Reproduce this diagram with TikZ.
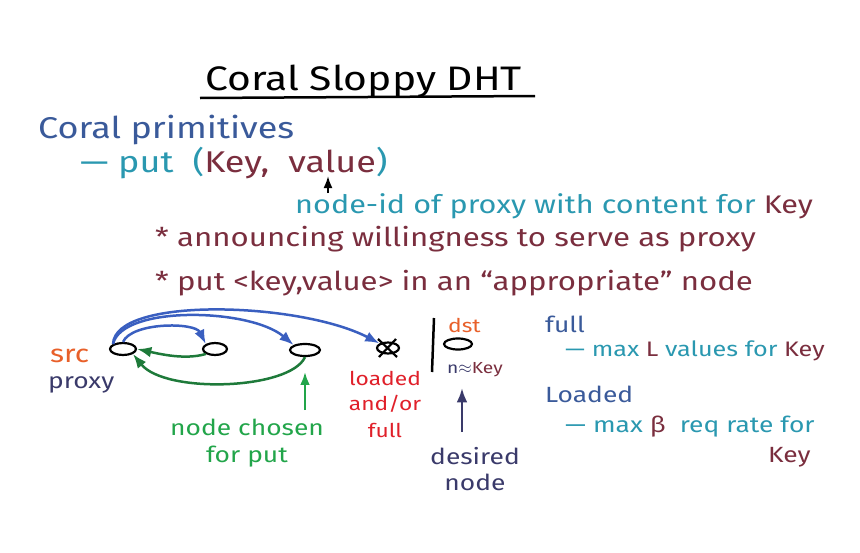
\documentclass[tikz,border=0pt]{standalone}
\usepackage{fontspec}
\setmainfont[FakeStretch=1.2]{Fira Sans}
\usetikzlibrary{positioning,calc,arrows.meta,shapes.geometric}
\definecolor{inkblue}{HTML}{3A5A9A}
\definecolor{inkteal}{HTML}{2A98B0}
\definecolor{inkmaroon}{HTML}{7A2E3E}
\definecolor{inkorange}{HTML}{E8602A}
\definecolor{inknavy}{HTML}{3A3A6A}
\definecolor{inkgreen}{HTML}{1E7A3A}
\definecolor{inklime}{HTML}{22A54A}
\definecolor{inkred}{HTML}{E0202A}
\definecolor{arcblue}{HTML}{3A5FC0}

\begin{document}
\begin{tikzpicture}[x=1pt,y=-1pt,>=Latex,
  every node/.style={inner sep=0pt,anchor=base west},
  title/.style={font=\fontsize{34}{38}\selectfont},
  big/.style={font=\fontsize{30}{34}\selectfont},
  hand/.style={font=\fontsize{25.5}{30}\selectfont},
  small/.style={font=\fontsize{22}{26}\selectfont},
  tiny/.style={font=\fontsize{16}{20}\selectfont},
  peer/.style={draw,ellipse,line width=2.2pt,anchor=center,minimum width=26pt,minimum height=12pt},
  push/.style={->,draw=arcblue,line width=2.5pt},
  reply/.style={->,draw=inkgreen,line width=2.5pt}]
\useasboundingbox (0,0) rectangle (860,552);

% heading
\node[title] (head) at (205,90) {Coral Sloppy DHT};
\draw[line width=2.5pt] (200,98) coordinate (ul) -- (535,96) coordinate (ur);
\node[big,text=inkblue] (prim) at (38,138) {Coral primitives};
\node[big,text=inkteal] (put) at (80,172) {— put \ (\textcolor{inkmaroon}{Key, \ value})};
\node[hand,text=inkteal] (nid) at (295,213) {node-id of proxy with content for \textcolor{inkmaroon}{Key}};
\coordinate (valtip) at (328,176);
\coordinate (valtail) at (328,193);
\draw[->,line width=2pt] (valtail) -- (valtip);
\node[hand,text=inkmaroon,font=\fontsize{26}{30}\selectfont] (ann) at (155,246) {* announcing willingness to serve as proxy};
\node[hand,text=inkmaroon,font=\fontsize{26}{30}\selectfont] (app) at (155,290) {* put <key,value> in an “appropriate” node};

% peers
\node[peer] (src) at (123,349) {};
\node[peer,minimum width=24pt] (n2) at (215,349) {};
\node[peer,minimum width=30pt] (n3) at (305,350) {};
\node[peer,minimum width=22pt,minimum height=11pt] (full) at (388,348) {};
\draw[line width=2.2pt] ($(full.center)+(-10,-9)$) -- ($(full.center)+(9,9)$);
\draw[line width=2.2pt] ($(full.center)+(8,-9)$) -- ($(full.center)+(-9,9)$);
\node[peer,minimum width=28pt,minimum height=11pt] (dst) at (458,344) {};
\draw[line width=2.5pt] (434,318) coordinate (bartop) -- (432,372) coordinate (barbot);

% arcs
\draw[push] (src.north) .. controls (132,322) and (195,322) .. (n2.north west);
\draw[push] (src.north west) .. controls (122,305) and (250,308) .. (n3.north west);
\draw[push] (src.north west) .. controls (115,296) and (300,302) .. (full.north west);
\draw[reply] (n2.south west) .. controls (185,360) and (160,354) .. (src.east);
\draw[reply] (n3.south) .. controls (290,390) and (165,394) .. (src.south east);

% labels
\node[small,text=inkorange,font=\fontsize{25}{28}\selectfont] (srclbl) at (50,362) {src};
\node[small,text=inknavy] (proxylbl) at (48,388) {proxy};
\node[small,text=inklime,anchor=base] (chosen) at (247,435) {node chosen};
\node[small,text=inklime,anchor=base] (forput) at (247,462) {for put};
\coordinate (chosentail) at (305,410);
\draw[->,draw=inklime,line width=2.2pt] (chosentail) -- (n3.south |- 0,372);
\node[small,text=inkred,anchor=base,font=\fontsize{19}{22}\selectfont] (ld1) at (385,385) {loaded};
\node[small,text=inkred,anchor=base,font=\fontsize{19}{22}\selectfont] (ld2) at (385,410) {and/or};
\node[small,text=inkred,anchor=base,font=\fontsize{19}{22}\selectfont] (ld3) at (385,437) {full};
\node[small,text=inkorange,font=\fontsize{19}{22}\selectfont] (dstlbl) at (448,332) {dst};
\node[tiny,text=inknavy] (approx) at (447,373) {n$\approx$\textcolor{inkmaroon}{Key}};
\node[small,text=inknavy,anchor=base] (des1) at (475,464) {desired};
\node[small,text=inknavy,anchor=base] (des2) at (475,490) {node};
\coordinate (destail) at (462,432);
\draw[->,draw=inknavy,line width=2.5pt] (destail) -- (462,388);

% right notes
\node[small,text=inkblue] (fulllbl) at (545,332) {full};
\node[small,text=inkteal,font=\fontsize{21}{24}\selectfont] (maxl) at (565,356) {— max \textcolor{inkmaroon}{L} values for \textcolor{inkmaroon}{Key}};
\node[small,text=inkblue] (loadlbl) at (545,402) {Loaded};
\node[small,text=inkteal] (maxb) at (565,432) {— max \textcolor{inkmaroon}{β} \ req rate for};
\node[small,text=inkmaroon] (keylbl) at (768,462) {Key};
\end{tikzpicture}
\end{document}
